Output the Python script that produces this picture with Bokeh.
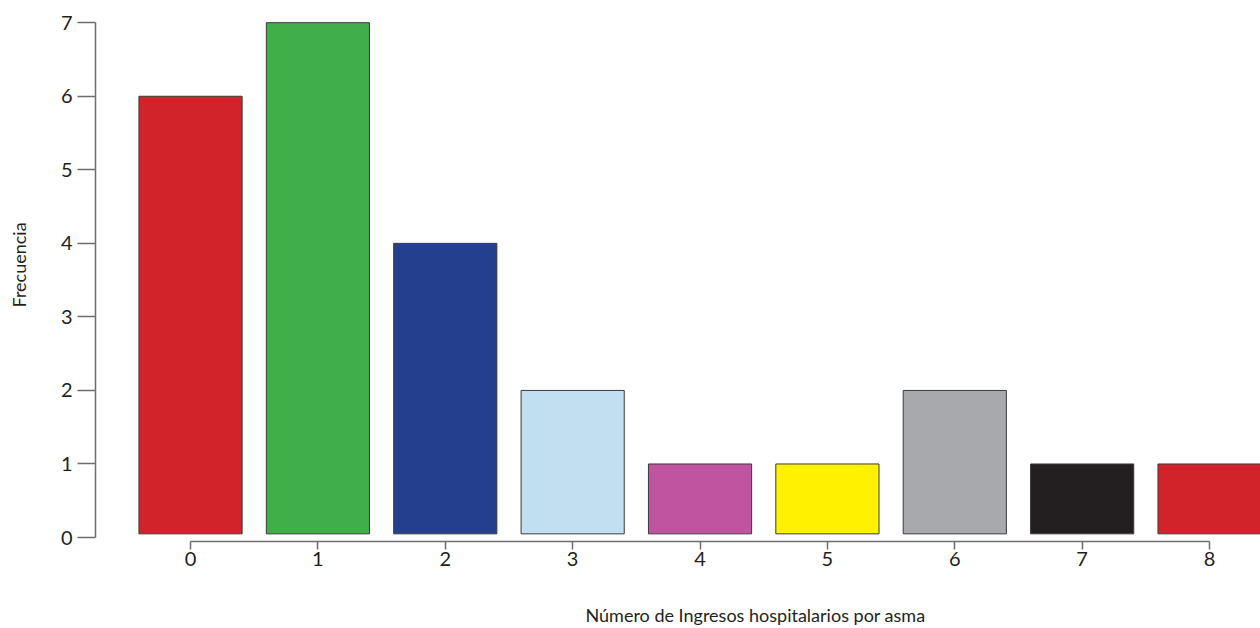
from bokeh.plotting import figure
from bokeh.models import Range1d, FixedTicker, ColumnDataSource, LinearAxis, Title
from bokeh.embed import file_html
from bokeh.resources import INLINE

# ---- data ----
categories = [0, 1, 2, 3, 4, 5, 6, 7, 8]
frequencies = [6, 7, 4, 2, 1, 1, 2, 1, 1]
bar_colors = ["#D2232A", "#40AE49", "#243F8D", "#C2DFF1", "#C054A0",
              "#FFF100", "#A7A9AC", "#231F20", "#D2232A"]
y_ticks = [0, 1, 2, 3, 4, 5, 6, 7]
x_label = "Número de Ingresos hospitalarios por asma"
y_label = "Frecuencia"

# ---- style constants ----
FONT = "Lato"
TEXT_COLOR = "#231F20"
AXIS_COLOR = "#6D6E71"
BAR_BASE = 0.05
BAR_WIDTH = 0.81

source = ColumnDataSource(dict(x=categories, top=frequencies, color=bar_colors,
                               bottom=[BAR_BASE] * len(categories)))

x_rng = Range1d(-0.746, 8.40)
y_rng = Range1d(-0.054, 7.03)

p = figure(width=1260, height=628, x_range=x_rng, y_range=y_rng,
           output_backend="svg", toolbar_location=None,
           min_border_left=95, min_border_right=0,
           min_border_top=20, min_border_bottom=87)

p.vbar(x="x", top="top", bottom="bottom", width=BAR_WIDTH, source=source,
       fill_color="color", line_color="#3A3A3A", line_width=1)

p.xgrid.visible = False
p.ygrid.visible = False
p.outline_line_color = None
p.background_fill_color = "white"
p.border_fill_color = "white"

# x axis
xa = p.xaxis[0]
xa.ticker = FixedTicker(ticks=categories)
xa.bounds = (categories[0], categories[-1])
xa.major_tick_in = 0
xa.major_tick_out = 8
xa.minor_tick_line_color = None
xa.major_label_standoff = 2

# y axis
ya = p.yaxis[0]
ya.ticker = FixedTicker(ticks=y_ticks)
ya.bounds = (y_ticks[0], y_ticks[-1])
ya.major_tick_in = 0
ya.major_tick_out = 18
ya.minor_tick_line_color = None
ya.major_label_standoff = 5

for ax in (xa, ya):
    ax.axis_line_color = AXIS_COLOR
    ax.axis_line_width = 1.5
    ax.major_tick_line_color = AXIS_COLOR
    ax.major_tick_line_width = 1.5
    ax.major_label_text_font = FONT
    ax.major_label_text_font_size = "20px"
    ax.major_label_text_color = TEXT_COLOR


def spacer_axis(size):
    # an invisible axis (white tick, no label) that only reserves space
    return LinearAxis(ticker=FixedTicker(ticks=[0]), axis_line_color=None,
                      major_tick_line_color="white", minor_tick_line_color=None,
                      major_label_text_color=None, major_tick_in=0,
                      major_tick_out=size, minor_tick_out=0, minor_tick_in=0,
                      major_label_standoff=0)


# spacers between the axes and the axis titles
p.add_layout(spacer_axis(31), "below")
p.add_layout(spacer_axis(19), "left")

# axis titles
p.add_layout(Title(text=x_label, align="left", offset=490, vertical_align="bottom",
                   standoff=4, text_font=FONT, text_font_size="18px",
                   text_font_style="normal", text_color=TEXT_COLOR), "below")
p.add_layout(Title(text=y_label, align="left", offset=234, vertical_align="top",
                   standoff=14, text_font=FONT, text_font_size="18px",
                   text_font_style="normal", text_color=TEXT_COLOR), "left")

open("out.html", "w").write(file_html(p, INLINE))
